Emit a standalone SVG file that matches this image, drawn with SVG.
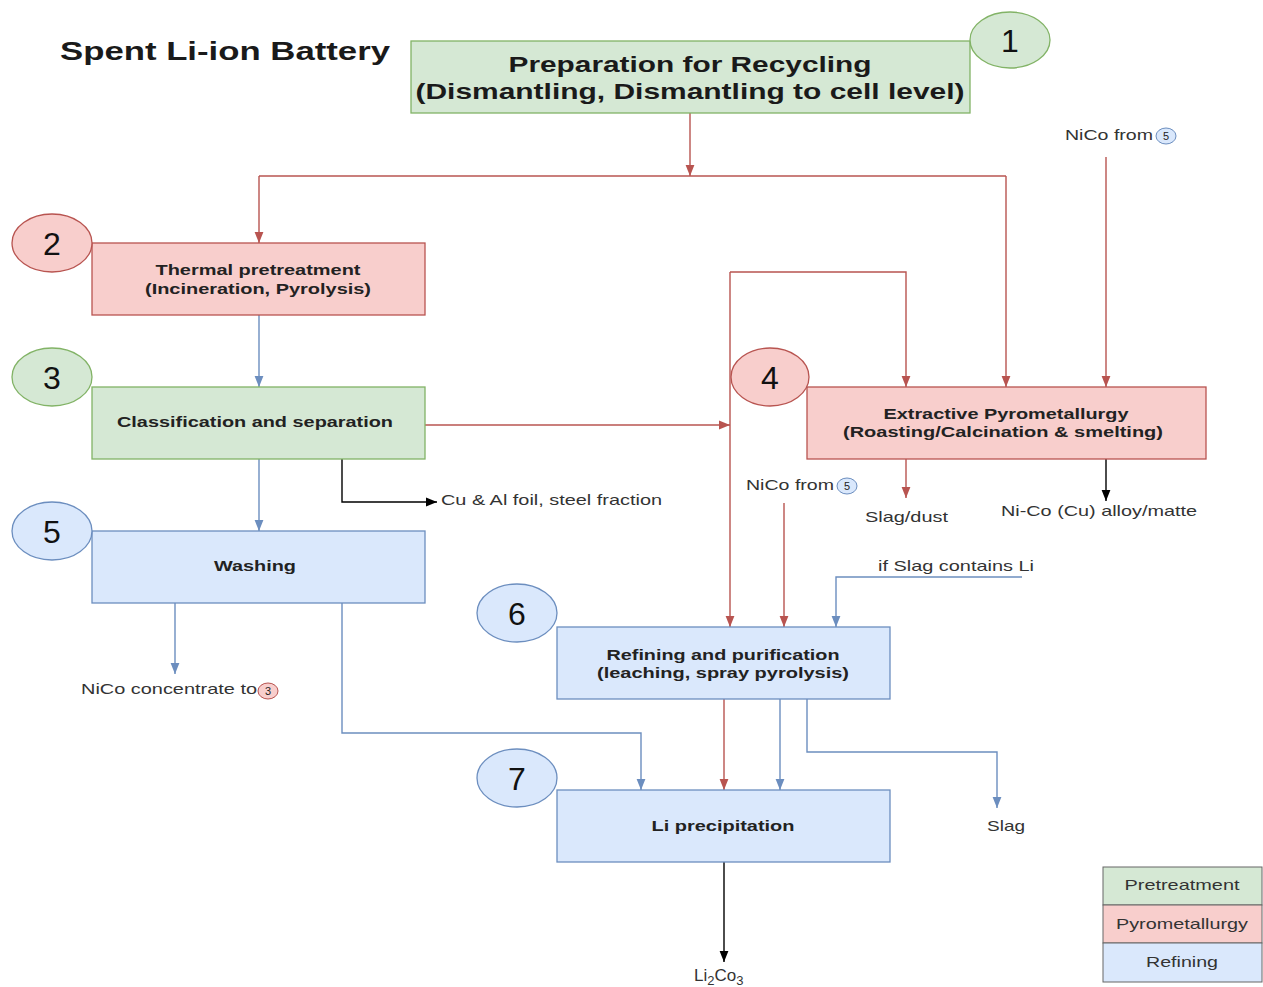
<svg xmlns="http://www.w3.org/2000/svg" width="1263" height="987" viewBox="0 0 1263 987">
<defs>
<style>
text{font-family:"Liberation Sans",Arial,sans-serif}
.box{stroke-width:1.3}
.g{fill:#d5e8d4;stroke:#82b366}
.r{fill:#f8cecc;stroke:#b85450}
.b{fill:#dae8fc;stroke:#6c8ebf}
.bt{font-weight:bold;font-size:15px;fill:#222;text-anchor:middle}
.num{font-size:32px;fill:#111;text-anchor:middle}
.lbl{font-size:15px;fill:#333}
.lr{fill:none;stroke:#b85450;stroke-width:1.4}
.lb{fill:none;stroke:#6c8ebf;stroke-width:1.4}
.lk{fill:none;stroke:#000;stroke-width:1.4}
.sm{font-size:11px;fill:#222;text-anchor:middle}
</style>
<marker id="ar" viewBox="0 0 10 10" refX="10" refY="5" markerWidth="11" markerHeight="11" markerUnits="userSpaceOnUse" orient="auto"><path d="M0,1 L10,5 L0,9 z" fill="#b85450"/></marker>
<marker id="ab" viewBox="0 0 10 10" refX="10" refY="5" markerWidth="11" markerHeight="11" markerUnits="userSpaceOnUse" orient="auto"><path d="M0,1 L10,5 L0,9 z" fill="#6c8ebf"/></marker>
<marker id="ak" viewBox="0 0 10 10" refX="10" refY="5" markerWidth="11" markerHeight="11" markerUnits="userSpaceOnUse" orient="auto"><path d="M0,1 L10,5 L0,9 z" fill="#000"/></marker>
</defs>
<rect width="1263" height="987" fill="#fff"/>
<text x="60" y="60" font-size="25" font-weight="bold" fill="#1a1a1a" textLength="330" lengthAdjust="spacingAndGlyphs">Spent Li-ion Battery</text>

<g id="connectors">
<path class="lr" d="M690,113 V176" marker-end="url(#ar)"/>
<path class="lr" d="M259,176 H1006"/>
<path class="lr" d="M259,176 V243" marker-end="url(#ar)"/>
<path class="lr" d="M1006,176 V387" marker-end="url(#ar)"/>
<path class="lb" d="M259,315 V387" marker-end="url(#ab)"/>
<path class="lr" d="M425,425 H730" marker-end="url(#ar)"/>
<path class="lr" d="M730,272 V627" marker-end="url(#ar)"/>
<path class="lr" d="M730,272 H906 V387" marker-end="url(#ar)"/>
<path class="lr" d="M1106,157 V387" marker-end="url(#ar)"/>
<path class="lr" d="M906,459 V498" marker-end="url(#ar)"/>
<path class="lk" d="M1106,459 V501" marker-end="url(#ak)"/>
<path class="lk" d="M342,459 V502 H437" marker-end="url(#ak)"/>
<path class="lb" d="M259,459 V531" marker-end="url(#ab)"/>
<path class="lb" d="M175,603 V674" marker-end="url(#ab)"/>
<path class="lb" d="M342,603 V733 H641 V790" marker-end="url(#ab)"/>
<path class="lr" d="M784,503 V627" marker-end="url(#ar)"/>
<path class="lb" d="M1022,577 H836 V627" marker-end="url(#ab)"/>
<path class="lr" d="M724,699 V790" marker-end="url(#ar)"/>
<path class="lb" d="M780,699 V790" marker-end="url(#ab)"/>
<path class="lb" d="M807,699 V752 H997 V808" marker-end="url(#ab)"/>
<path class="lk" d="M724,862 V962" marker-end="url(#ak)"/>
</g>

<g id="node1">
<rect class="box g" x="411" y="41" width="559" height="72"/>
<text x="690" y="72" font-size="22" font-weight="bold" fill="#1a1a1a" text-anchor="middle" textLength="363" lengthAdjust="spacingAndGlyphs">Preparation for Recycling</text>
<text x="690" y="99" font-size="22" font-weight="bold" fill="#1a1a1a" text-anchor="middle" textLength="549" lengthAdjust="spacingAndGlyphs">(Dismantling, Dismantling to cell level)</text>
<ellipse class="box g" cx="1010" cy="40" rx="40" ry="28"/>
<text class="num" x="1010" y="52">1</text>
</g>

<g id="node2">
<rect class="box r" x="92" y="243" width="333" height="72"/>
<text class="bt" x="258" y="275" textLength="205" lengthAdjust="spacingAndGlyphs">Thermal pretreatment</text>
<text class="bt" x="258" y="294" textLength="226" lengthAdjust="spacingAndGlyphs">(Incineration, Pyrolysis)</text>
<ellipse class="box r" cx="52" cy="243" rx="40" ry="29"/>
<text class="num" x="52" y="255">2</text>
</g>

<g id="node3">
<rect class="box g" x="92" y="387" width="333" height="72"/>
<text class="bt" x="255" y="427" textLength="276" lengthAdjust="spacingAndGlyphs">Classification and separation</text>
<ellipse class="box g" cx="52" cy="377" rx="40" ry="29"/>
<text class="num" x="52" y="389">3</text>
</g>

<g id="node4">
<rect class="box r" x="807" y="387" width="399" height="72"/>
<text class="bt" x="1006" y="419" textLength="245" lengthAdjust="spacingAndGlyphs">Extractive Pyrometallurgy</text>
<text class="bt" x="1003" y="437" textLength="320" lengthAdjust="spacingAndGlyphs">(Roasting/Calcination &amp; smelting)</text>
<ellipse class="box r" cx="770" cy="377" rx="39" ry="29"/>
<text class="num" x="770" y="389">4</text>
</g>

<g id="node5">
<rect class="box b" x="92" y="531" width="333" height="72"/>
<text class="bt" x="255" y="571" textLength="82" lengthAdjust="spacingAndGlyphs">Washing</text>
<ellipse class="box b" cx="52" cy="531" rx="40" ry="29"/>
<text class="num" x="52" y="543">5</text>
</g>

<g id="node6">
<rect class="box b" x="557" y="627" width="333" height="72"/>
<text class="bt" x="723" y="660" textLength="233" lengthAdjust="spacingAndGlyphs">Refining and purification</text>
<text class="bt" x="723" y="678" textLength="252" lengthAdjust="spacingAndGlyphs">(leaching, spray pyrolysis)</text>
<ellipse class="box b" cx="517" cy="613" rx="40" ry="29"/>
<text class="num" x="517" y="625">6</text>
</g>

<g id="node7">
<rect class="box b" x="557" y="790" width="333" height="72"/>
<text class="bt" x="723" y="831" textLength="143" lengthAdjust="spacingAndGlyphs">Li precipitation</text>
<ellipse class="box b" cx="517" cy="778" rx="40" ry="29"/>
<text class="num" x="517" y="790">7</text>
</g>

<g id="labels">
<text class="lbl" x="1065" y="140" textLength="88" lengthAdjust="spacingAndGlyphs">NiCo from</text>
<ellipse cx="1166" cy="136" rx="10" ry="8" fill="#dae8fc" stroke="#6c8ebf"/>
<text class="sm" x="1166" y="140">5</text>
<text class="lbl" x="746" y="490" textLength="88" lengthAdjust="spacingAndGlyphs">NiCo from</text>
<ellipse cx="847" cy="486" rx="10" ry="8" fill="#dae8fc" stroke="#6c8ebf"/>
<text class="sm" x="847" y="490">5</text>
<text class="lbl" x="81" y="694" textLength="176" lengthAdjust="spacingAndGlyphs">NiCo concentrate to</text>
<ellipse cx="268" cy="691" rx="10" ry="8" fill="#f8cecc" stroke="#b85450"/>
<text class="sm" x="268" y="695">3</text>
<text class="lbl" x="865" y="522" textLength="83" lengthAdjust="spacingAndGlyphs">Slag/dust</text>
<text class="lbl" x="1001" y="516" textLength="196" lengthAdjust="spacingAndGlyphs">Ni-Co (Cu) alloy/matte</text>
<text class="lbl" x="441" y="505" textLength="221" lengthAdjust="spacingAndGlyphs">Cu &amp; Al foil, steel fraction</text>
<text class="lbl" x="878" y="571" textLength="156" lengthAdjust="spacingAndGlyphs">if Slag contains Li</text>
<text class="lbl" x="987" y="831" textLength="38" lengthAdjust="spacingAndGlyphs">Slag</text>
<text x="694" y="981" style="font-size:17px;fill:#333">Li<tspan style="font-size:13px" dy="4">2</tspan><tspan dy="-4">Co</tspan><tspan style="font-size:13px" dy="4">3</tspan></text>
</g>

<g id="legend">
<rect x="1103" y="867" width="159" height="38" fill="#d5e8d4" stroke="#666"/>
<rect x="1103" y="905" width="159" height="38" fill="#f8cecc" stroke="#666"/>
<rect x="1103" y="943" width="159" height="39" fill="#dae8fc" stroke="#666"/>
<text class="lbl" x="1182" y="890" text-anchor="middle" textLength="115" lengthAdjust="spacingAndGlyphs">Pretreatment</text>
<text class="lbl" x="1182" y="929" text-anchor="middle" textLength="132" lengthAdjust="spacingAndGlyphs">Pyrometallurgy</text>
<text class="lbl" x="1182" y="967" text-anchor="middle" textLength="72" lengthAdjust="spacingAndGlyphs">Refining</text>
</g>
</svg>
